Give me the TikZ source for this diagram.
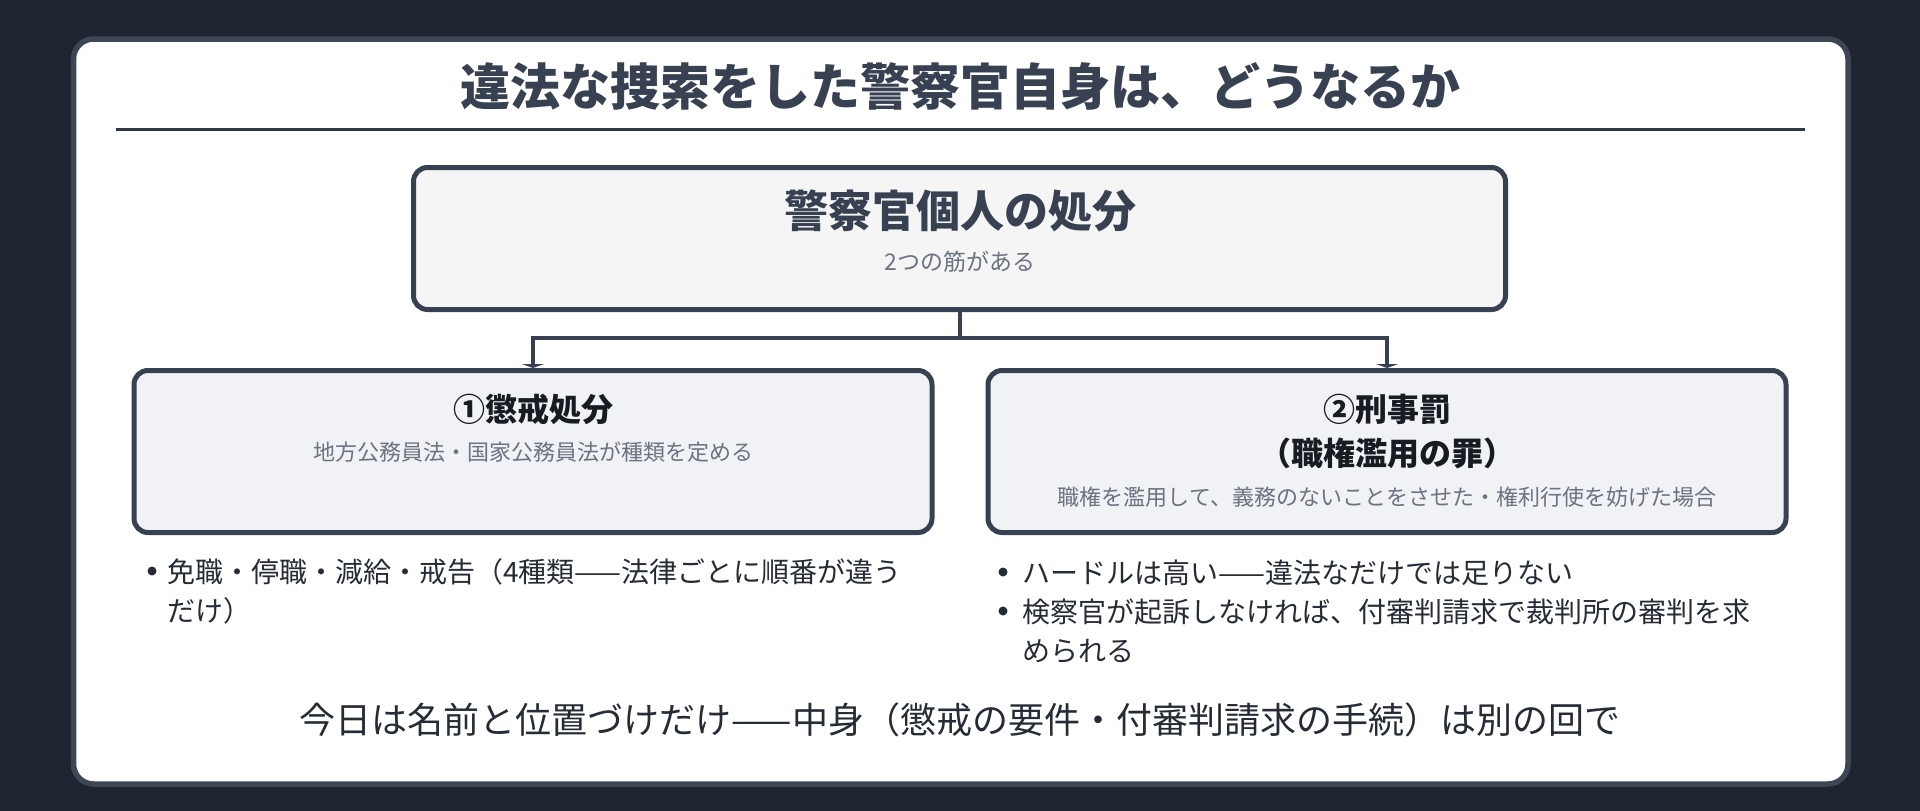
\documentclass[tikz,border=0pt]{standalone}
\usepackage{fontspec}
\setmainfont{Noto Sans CJK JP}
\usetikzlibrary{arrows.meta}
\definecolor{bgdark}{HTML}{1E2530}
\definecolor{panelline}{HTML}{3C4655}
\definecolor{ink}{HTML}{374151}
\definecolor{rulec}{HTML}{2F3744}
\definecolor{darktext}{HTML}{171B22}
\definecolor{subgray}{HTML}{6B7280}
\definecolor{bodytext}{HTML}{262C36}
\definecolor{topfill}{HTML}{F5F5F5}
\definecolor{sidefill}{HTML}{F0F2F5}
\pgfdeclarelayer{back}
\pgfdeclarelayer{mid}
\pgfsetlayers{back,mid,main}
\newcommand{\fs}[2]{\fontsize{#1}{#2}\selectfont}
\tikzset{
  box/.style={draw=ink, line width=5pt, rounded corners=14pt, inner sep=0pt},
  topbox/.style={box, fill=topfill, minimum width=1092pt, minimum height=142pt},
  sidebox/.style={box, fill=sidefill, minimum width=798pt, minimum height=162pt},
  conn/.style={draw=ink, line width=4pt, -{Triangle[width=22pt,length=4pt]}},
  txt/.style={inner sep=0pt, anchor=base},
  sub/.style={txt, text=subgray, font=\fs{22}{26}},
  sidetitle/.style={txt, text=darktext, font=\bfseries\fs{32}{38}},
  bullettext/.style={inner sep=0pt, anchor=base west, align=left, text=bodytext, font=\fs{28}{39}},
  dot/.style={circle, fill=bodytext, inner sep=0pt, minimum size=9pt},
}
\begin{document}
\begin{tikzpicture}[x=1pt,y=-1pt]
\begin{pgfonlayer}{back}
\fill[bgdark] (0,0) rectangle (1920,811);
\draw[draw=panelline, fill=white, line width=5.5pt, rounded corners=20pt] (73.5,39) rectangle (1848,784);
\end{pgfonlayer}
\useasboundingbox (0,0) rectangle (1920,811);

% title
\node[txt, text=ink, font=\bfseries\fs{50}{60}] (title) at (960,105) {違法な捜索をした警察官自身は、どうなるか};
\draw[rulec, line width=3pt] (116,129.5) -- (1805,129.5);

% boxes
\node[topbox] (top) at (959.5,238.5) {};
\node[txt, text=ink, font=\bfseries\fs{44}{52}] (toptitle) at (960,227) {警察官個人の処分};
\node[sub, font=\fs{23}{27}] (topsub) at (960,270) {2つの筋がある};

\node[sidebox] (left) at (533,451.5) {};
\node[sidetitle] (lefttitle) at (533,421) {①懲戒処分};
\node[sub] (leftsub) at (533,460) {地方公務員法・国家公務員法が種類を定める};

\node[sidebox] (right) at (1387,451.5) {};
\node[sidetitle] (righttitle1) at (1387,421) {②刑事罰};
\node[sidetitle] (righttitle2) at (1387,465) {（職権濫用の罪）};
\node[sub] (rightsub) at (1387,505) {職権を濫用して、義務のないことをさせた・権利行使を妨げた場合};

% connectors
\begin{pgfonlayer}{mid}
\coordinate (split) at (959.5,338);
\draw[draw=ink, line width=4pt] (top.south) -- (split);
\draw[conn] (split) -| (left.north);
\draw[conn] (split) -| (right.north);
\end{pgfonlayer}

% bullets (anchor = baseline of last line)
\node[dot] (ld1) at (152,571) {};
\node[bullettext] (lb1) at (167,621) {免職・停職・減給・戒告（4種類——法律ごとに順番が違う\\だけ）};
\node[dot] (rd1) at (1003,572) {};
\node[bullettext] (rb1) at (1022,583) {ハードルは高い——違法なだけでは足りない};
\node[dot] (rd2) at (1003,611) {};
\node[bullettext] (rb2) at (1022,661) {検察官が起訴しなければ、付審判請求で裁判所の審判を求\\められる};

% bottom line
\node[txt, text=bodytext, font=\fs{36}{42}] (bottom) at (960,733) {今日は名前と位置づけだけ——中身（懲戒の要件・付審判請求の手続）は別の回で};
\end{tikzpicture}
\end{document}
